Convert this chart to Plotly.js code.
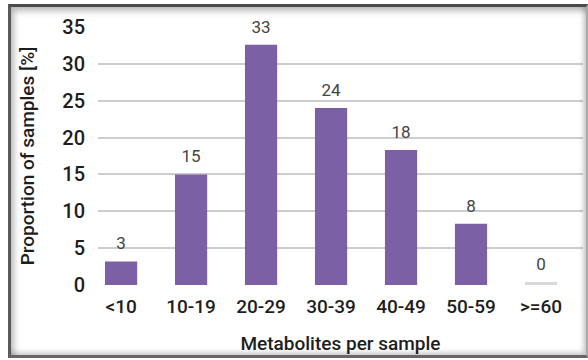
<!DOCTYPE html>
<html>
<head>
<meta charset="utf-8">
<script src="https://cdn.plot.ly/plotly-3.0.1.min.js"></script>
<style>
  html, body { margin: 0; padding: 0; background: #fafafa; }
  #wrap { position: relative; width: 588px; height: 360px; overflow: hidden; }
  #chart { position: absolute; left: 0; top: 0; width: 588px; height: 360px; }
  /* picture-frame edge drawn over the chart */
  #frame {
    position: absolute; left: 8px; top: 4px; width: 580px; height: 354px;
    box-sizing: border-box; pointer-events: none;
    border-top: 3px solid #4a4a4a; border-left: 3px solid #5a5a5a;
    border-bottom: 3px solid #666666; border-right: 2px solid #a9a9a9;
    box-shadow: inset 3px 4px 6px rgba(0,0,0,0.28), inset -3px -3px 5px rgba(0,0,0,0.18);
  }
</style>
</head>
<body>
<div id="wrap">
  <div id="chart"></div>
  <div id="frame"></div>
</div>
<script>
// Share of samples by number of metabolites detected
const categories = ['<10', '10-19', '20-29', '30-39', '40-49', '50-59', '>=60'];
const proportions = [3.2, 15.0, 32.6, 24.0, 18.3, 8.3, 0.4];
const barColors = ['#7b60a5', '#7b60a5', '#7b60a5', '#7b60a5', '#7b60a5', '#7b60a5', '#d9d9d9'];
const yTickVals = [0, 5, 10, 15, 20, 25, 30, 35];

const FONT = 'Roboto, "DejaVu Sans", sans-serif';

const bars = {
  type: 'bar',
  x: categories,
  y: proportions,
  width: 0.46,
  marker: { color: barColors },
  hoverinfo: 'x+y',
  showlegend: false
};

// value labels sit above each bar
const labels = {
  type: 'scatter',
  mode: 'markers+text',
  x: categories,
  y: proportions,
  text: proportions.map(v => Math.round(v).toString()),
  textposition: 'top center',
  textfont: { family: FONT, size: 17, color: '#444444' },
  marker: { size: 11, color: 'rgba(0,0,0,0)' },
  cliponaxis: false,
  hoverinfo: 'skip',
  showlegend: false
};

const layout = {
  width: 588,
  height: 360,
  margin: { l: 98, r: 5, t: 27, b: 75 },
  paper_bgcolor: '#ffffff',
  plot_bgcolor: '#ffffff',
  font: { family: FONT, color: '#222222' },
  bargap: 0.54,
  xaxis: {
    type: 'category',
    range: [-0.33, 6.6],
    showgrid: false,
    showline: false,
    zeroline: false,
    ticks: '',
    ticklabelstandoff: 8,
    tickfont: { family: FONT, size: 19, color: '#1e1e1e', weight: 500 },
    title: { text: 'Metabolites per sample', font: { family: FONT, size: 19, color: '#1e1e1e', weight: 500 }, standoff: 19 }
  },
  yaxis: {
    range: [0, 35],
    tickvals: yTickVals,
    showgrid: true,
    gridcolor: '#cdcdcd',
    gridwidth: 2,
    zeroline: false,
    showline: false,
    ticks: '',
    ticklabelstandoff: 12,
    tickfont: { family: FONT, size: 20, color: '#1e1e1e', weight: 500 },
    title: { text: 'Proportion of samples [%]', font: { family: FONT, size: 19, color: '#1e1e1e', weight: 500 }, standoff: 22 }
  }
};

Plotly.newPlot('chart', [bars, labels], layout, { displayModeBar: false, staticPlot: true });
</script>
</body>
</html>
